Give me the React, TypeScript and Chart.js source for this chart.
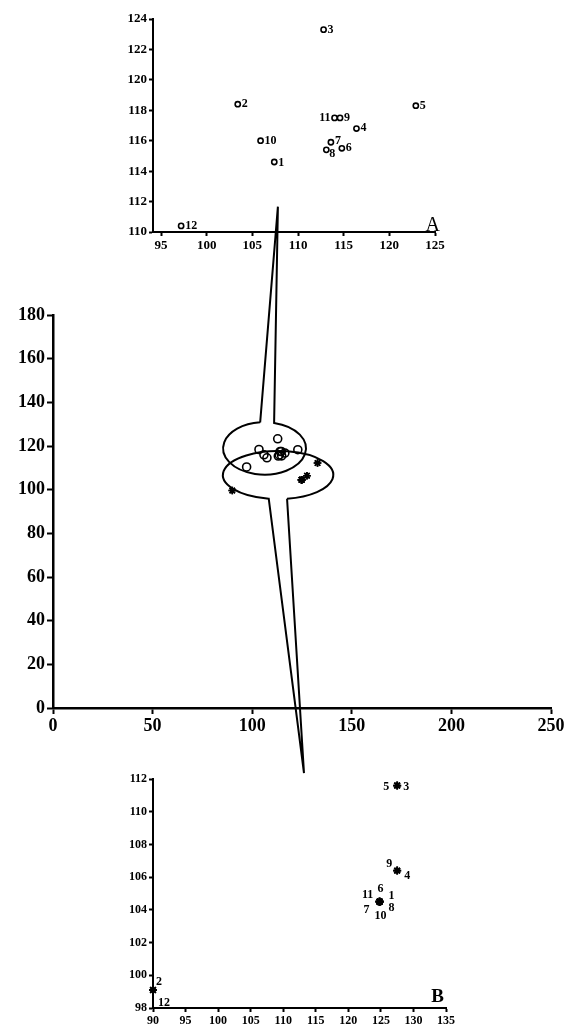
import React, { useEffect, useRef } from 'react';
import { Chart, registerables } from 'chart.js';

Chart.register(...registerables);

// ---------- data ----------
const pointIds = ['1', '2', '3', '4', '5', '6', '7', '8', '9', '10', '11', '12'];
// Panel A (circles)
const circleX = [107.4, 103.4, 112.8, 116.4, 122.9, 114.8, 113.6, 113.1, 114.6, 105.9, 114.0, 97.2];
const circleY = [114.6, 118.4, 123.3, 116.8, 118.3, 115.5, 115.9, 115.4, 117.5, 116.0, 117.5, 110.4];
// Panel B (stars)
const starX = [124.8, 90.0, 127.5, 127.5, 127.5, 124.8, 124.8, 124.8, 127.5, 124.8, 124.8, 90.0];
const starY = [104.5, 99.1, 111.6, 106.4, 111.6, 104.5, 104.5, 104.5, 106.4, 104.5, 104.5, 99.1];
// Stars as they appear in the overview (main) chart
const mainStarX = [124.8, 90.0, 132.8, 127.5, 132.8, 124.8, 124.8, 124.8, 127.5, 124.8, 124.8, 90.0];
const mainStarY = [104.5, 99.6, 112.2, 106.4, 112.2, 104.5, 104.5, 104.5, 106.4, 104.5, 104.5, 99.6];

// tick labels
const mainXTicks = [0, 50, 100, 150, 200, 250];
const mainYTicks = [0, 20, 40, 60, 80, 100, 120, 140, 160, 180];
const aXTicks = [95, 100, 105, 110, 115, 120, 125];
const aYTicks = [110, 112, 114, 116, 118, 120, 122, 124];
const bXTicks = [90, 95, 100, 105, 110, 115, 120, 125, 130, 135];
const bYTicks = [98, 100, 102, 104, 106, 108, 110, 112];
const panelTags = ['A', 'B'];

// ---------- layout / style ----------
const W = 574;
const H = 1034;
const FONT = '"Liberation Serif", "DejaVu Serif", serif';

// label offsets (pixels) for inset point labels: [dx, dy, align]
const aLabelOffsets: [number, number, CanvasTextAlign][] = [
  [4, 1, 'left'], [4, 0, 'left'], [4, 0, 'left'], [4, -1, 'left'], [4, 0, 'left'], [4, 0, 'left'],
  [4, -1, 'left'], [3, 4, 'left'], [4, 0, 'left'], [4, 0, 'left'], [-4, 0, 'right'], [4, 0, 'left'],
];
const bLabelOffsets: [number, number, CanvasTextAlign][] = [
  [12, -6, 'center'], [6, -8, 'center'], [9, 1, 'center'], [10, 5, 'center'], [-11, 1, 'center'], [1, -13, 'center'],
  [-13, 8, 'center'], [12, 6, 'center'], [-8, -7, 'center'], [1, 14, 'center'], [-12, -7, 'center'], [11, 13, 'center'],
];

// callout ellipses on the main chart, in main-chart data units
const callouts = [
  { cx: 106.2, cy: 118.9, rx: 20.8, ry: 12.0, attachL: 104.0, attachR: 111.0, apexX: 112.9, apexY: 229.6, side: 'top' },
  { cx: 113.0, cy: 106.7, rx: 27.7, ry: 11.0, attachL: 108.3, attachR: 117.5, apexX: 126.0, apexY: -29.8, side: 'bottom' },
];

const pointLabelPlugin = {
  id: 'pointLabels',
  afterDatasetsDraw(chart: any, _args: any, opts: any) {
    if (!opts || !opts.offsets) return;
    const ctx = chart.ctx;
    const meta = chart.getDatasetMeta(0);
    ctx.save();
    ctx.fillStyle = '#000';
    ctx.font = opts.font;
    ctx.textBaseline = 'middle';
    meta.data.forEach((el: any, i: number) => {
      const [dx, dy, align] = opts.offsets[i];
      ctx.textAlign = align;
      ctx.fillText(pointIds[i], el.x + dx, el.y + dy);
    });
    ctx.restore();
  },
};

const panelTagPlugin = {
  id: 'panelTag',
  afterDraw(chart: any, _args: any, opts: any) {
    if (!opts || !opts.text) return;
    const ctx = chart.ctx;
    const a = chart.chartArea;
    ctx.save();
    ctx.fillStyle = '#000';
    ctx.font = opts.font;
    ctx.textAlign = 'right';
    ctx.textBaseline = 'alphabetic';
    ctx.fillText(opts.text, a.right + opts.dx, a.bottom + opts.dy);
    ctx.restore();
  },
};

const calloutPlugin = {
  id: 'callouts',
  beforeDatasetsDraw(chart: any, _args: any, opts: any) {
    if (!opts || !opts.shapes) return;
    const ctx = chart.ctx;
    const xs = chart.scales.x;
    const ys = chart.scales.y;
    ctx.save();
    ctx.strokeStyle = '#000';
    ctx.lineWidth = 2;
    ctx.lineJoin = 'miter';
    opts.shapes.forEach((s: any) => {
      const cx = xs.getPixelForValue(s.cx);
      const cy = ys.getPixelForValue(s.cy);
      const rx = Math.abs(xs.getPixelForValue(s.cx + s.rx) - cx);
      const ry = Math.abs(ys.getPixelForValue(s.cy + s.ry) - cy);
      const ax = xs.getPixelForValue(s.apexX);
      const ay = ys.getPixelForValue(s.apexY);
      const cl = Math.max(-1, Math.min(1, (xs.getPixelForValue(s.attachL) - cx) / rx));
      const cr = Math.max(-1, Math.min(1, (xs.getPixelForValue(s.attachR) - cx) / rx));
      const pt = (t: number) => [cx + rx * Math.cos(t), cy + ry * Math.sin(t)];
      ctx.beginPath();
      if (s.side === 'top') {
        const tL = -Math.acos(cl);
        const tR = -Math.acos(cr);
        const pL = pt(tL);
        const pR = pt(tR);
        ctx.moveTo(pL[0], pL[1]);
        ctx.lineTo(ax, ay);
        ctx.lineTo(pR[0], pR[1]);
        ctx.ellipse(cx, cy, rx, ry, 0, tR, tL, false);
      } else {
        const tL = Math.acos(cl);
        const tR = Math.acos(cr);
        const pL = pt(tL);
        const pR = pt(tR);
        ctx.moveTo(pR[0], pR[1]);
        ctx.lineTo(ax, ay);
        ctx.lineTo(pL[0], pL[1]);
        ctx.ellipse(cx, cy, rx, ry, 0, tL, tR, false);
      }
      ctx.stroke();
    });
    ctx.restore();
  },
};

type Area = { left: number; top: number; right: number; bottom: number };

function axis(
  min: number, max: number, ticks: number[], fontSize: number, tickLen: number,
  borderW: number, isX: boolean, fitSize: number
) {
  return {
    type: 'linear',
    min,
    max,
    afterBuildTicks: (s: any) => {
      s.ticks = ticks.map((v) => ({ value: v }));
    },
    afterFit: (s: any) => {
      if (isX) s.height = fitSize;
      else s.width = fitSize;
    },
    grid: {
      display: true,
      drawOnChartArea: false,
      drawTicks: true,
      tickLength: tickLen,
      tickWidth: 2,
      tickColor: '#000',
    },
    border: { display: true, color: '#000', width: borderW },
    ticks: {
      color: '#000',
      font: { family: FONT, size: fontSize, weight: 'bold' },
      padding: 2,
      maxRotation: 0,
      autoSkip: false,
    },
  };
}

function buildChart(
  canvas: HTMLCanvasElement,
  area: Area,
  xAxis: any,
  yAxis: any,
  datasets: any[],
  pluginOpts: any,
  xFit: number,
  yFit: number
) {
  return new Chart(canvas, {
    type: 'scatter',
    data: { datasets },
    options: {
      responsive: false,
      animation: false,
      devicePixelRatio: 1,
      layout: {
        padding: {
          left: area.left - yFit,
          top: area.top,
          right: W - area.right,
          bottom: H - area.bottom - xFit,
        },
      },
      scales: { x: xAxis, y: yAxis },
      plugins: {
        legend: { display: false },
        tooltip: { enabled: false },
        ...pluginOpts,
      },
    } as any,
    plugins: [pointLabelPlugin, panelTagPlugin, calloutPlugin],
  });
}

const toPoints = (xs: number[], ys: number[]) => xs.map((x, i) => ({ x, y: ys[i] }));

export default function App() {
  const refA = useRef<HTMLCanvasElement>(null);
  const refMain = useRef<HTMLCanvasElement>(null);
  const refB = useRef<HTMLCanvasElement>(null);

  useEffect(() => {
    document.body.style.margin = '0';
    const charts: Chart[] = [];

    // Panel A
    charts.push(
      buildChart(
        refA.current!,
        { left: 153, top: 19, right: 435, bottom: 232 },
        axis(94.12, 125, aXTicks, 13, 4, 2, true, 20),
        axis(110, 124, aYTicks, 13, 4, 2, false, 40),
        [
          {
            data: toPoints(circleX, circleY),
            pointStyle: 'circle',
            pointRadius: 2.6,
            pointBorderWidth: 1.6,
            pointBorderColor: '#000',
            pointBackgroundColor: '#fff',
            showLine: false,
            clip: false,
          },
        ],
        {
          pointLabels: { offsets: aLabelOffsets, font: `bold 12px ${FONT}` },
          panelTag: { text: panelTags[0], font: `20px ${FONT}`, dx: 5, dy: -1 },
        },
        20,
        40
      )
    );

    // Main chart
    charts.push(
      buildChart(
        refMain.current!,
        { left: 53, top: 315, right: 551, bottom: 708 },
        axis(0, 250, mainXTicks, 18, 6, 2.5, true, 26),
        axis(0, 180, mainYTicks, 18, 6, 2.5, false, 40),
        [
          {
            data: toPoints(circleX, circleY),
            pointStyle: 'circle',
            pointRadius: 4,
            pointBorderWidth: 1.6,
            pointBorderColor: '#000',
            pointBackgroundColor: 'rgba(255,255,255,0)',
            showLine: false,
            clip: false,
          },
          {
            data: toPoints(mainStarX, mainStarY),
            pointStyle: 'star',
            pointRadius: 3.8,
            pointBorderWidth: 1.6,
            pointBorderColor: '#000',
            pointBackgroundColor: '#000',
            showLine: false,
            clip: false,
          },
        ],
        {
          callouts: { shapes: callouts },
        },
        26,
        40
      )
    );

    // Panel B
    charts.push(
      buildChart(
        refB.current!,
        { left: 153, top: 779, right: 446, bottom: 1008 },
        axis(90, 135, bXTicks, 12, 4, 2, true, 22),
        axis(98, 112, bYTicks, 12, 4, 2, false, 40),
        [
          {
            data: toPoints(starX, starY),
            pointStyle: 'star',
            pointRadius: 4,
            pointBorderWidth: 1.8,
            pointBorderColor: '#000',
            pointBackgroundColor: '#000',
            showLine: false,
            clip: false,
          },
        ],
        {
          pointLabels: { offsets: bLabelOffsets, font: `bold 12px ${FONT}` },
          panelTag: { text: panelTags[1], font: `bold 19px ${FONT}`, dx: -2, dy: -6 },
        },
        22,
        40
      )
    );

    return () => charts.forEach((c) => c.destroy());
  }, []);

  const cs: React.CSSProperties = { position: 'absolute', left: 0, top: 0, width: W, height: H };
  return (
    <div style={{ position: 'relative', width: W, height: H, background: '#fff' }}>
      <canvas ref={refA} width={W} height={H} style={cs} />
      <canvas ref={refB} width={W} height={H} style={cs} />
      <canvas ref={refMain} width={W} height={H} style={cs} />
    </div>
  );
}
